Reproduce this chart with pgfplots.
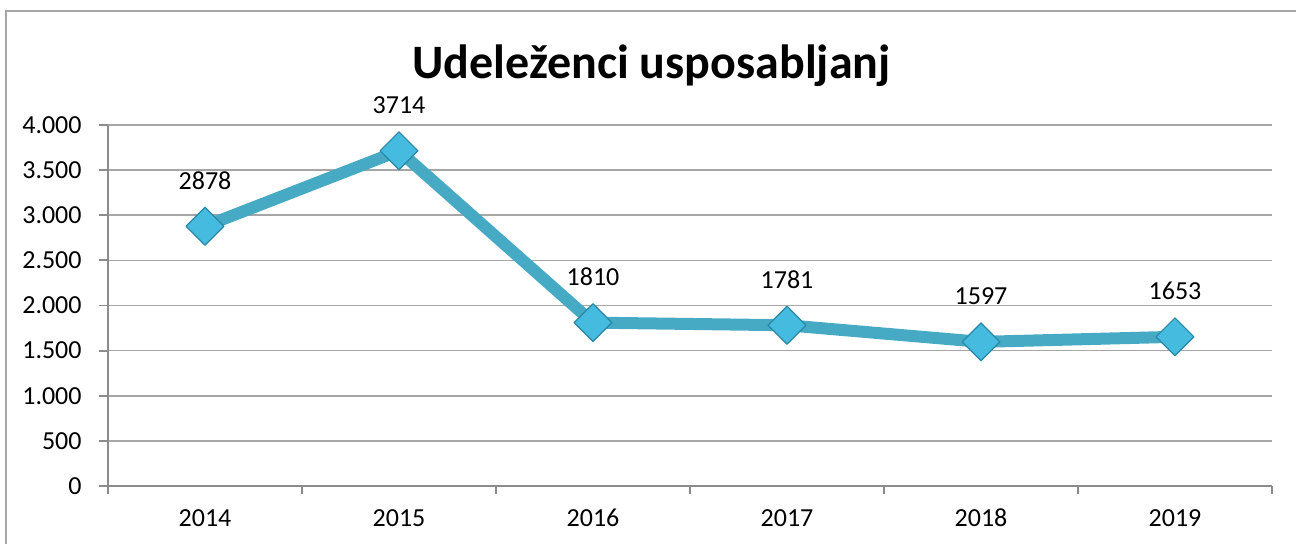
\documentclass[border=0pt]{standalone}
\usepackage{pgfplots}
\pgfplotsset{compat=1.18}
\usepackage{fontspec}
\setmainfont{Carlito}

\definecolor{lineaqua}{HTML}{46AAC5}
\definecolor{markfill}{HTML}{45BBE0}
\definecolor{markedge}{HTML}{2A87A6}
\definecolor{gridgray}{HTML}{A6A6A6}
\definecolor{axisgray}{HTML}{8C8C8C}

\begin{document}
\begin{tikzpicture}
\begin{axis}[
    name=ax,
    scale only axis,
    width=582bp,
    height=180.5bp,
    xmin=-0.5, xmax=5.5,
    ymin=0, ymax=4000,
    xtick={0,...,5},
    xticklabels={2014,2015,2016,2017,2018,2019},
    minor xtick={-0.5,0.5,...,5.5},
    ytick={0,500,...,4000},
    yticklabels={0,500,1.000,1.500,2.000,2.500,3.000,3.500,4.000},
    axis x line*=bottom,
    axis y line*=left,
    axis line style={axisgray, line width=0.9bp, -},
    tick align=outside,
    major tick length=4.5bp,
    minor tick length=4bp,
    x tick style={draw=none},
    minor x tick style={draw=axisgray, line width=0.9bp},
    y tick style={draw=axisgray, line width=0.9bp},
    ymajorgrids=true,
    grid style={gridgray, line width=0.8bp},
    tick label style={font=\fontsize{13bp}{15bp}\selectfont},
    yticklabel style={anchor=east, inner sep=0pt, xshift=-8.5bp},
    xticklabel style={text height=1.6ex, text depth=0.3ex, yshift=-4.5bp},
    title={\textbf{Udeleženci usposabljanj}},
    title style={at={(0.467,1)}, anchor=base, yshift=17.5bp,
        font=\fontsize{24bp}{28bp}\selectfont},
    nodes near coords,
    nodes near coords style={font=\fontsize{13bp}{15bp}\selectfont, text=black,
        /pgf/number format/assume math mode=true,
        /pgf/number format/1000 sep={}, anchor=base, yshift=18.5bp},
    clip=false,
]
\addplot[lineaqua, line width=6bp, line join=round,
    mark=square*, mark size=6.7bp,
    mark options={rotate=45, fill=markfill, draw=markedge, line width=0.6bp}]
    coordinates {(0,2878) (1,3714) (2,1810) (3,1781) (4,1597) (5,1653)};
\end{axis}
\path[use as bounding box]
    ([xshift=-54bp,yshift=-29bp]ax.south west) rectangle ([xshift=12bp,yshift=62.5bp]ax.north east);
\draw[gridgray, line width=0.9bp]
    ([xshift=-51bp,yshift=-40bp]ax.south west) rectangle ([xshift=30bp,yshift=57bp]ax.north east);
\end{tikzpicture}
\end{document}
